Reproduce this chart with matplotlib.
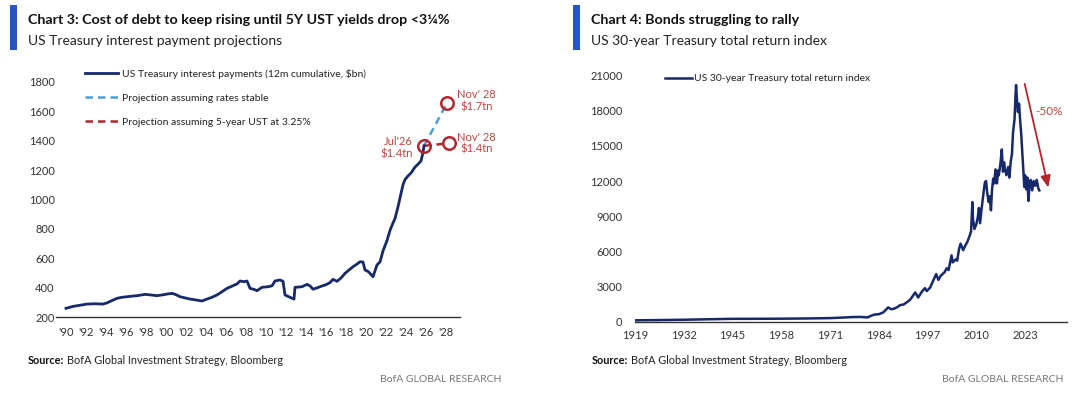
import matplotlib
matplotlib.use("Agg")
import matplotlib.pyplot as plt

# ---------------- data ----------------
# Chart 3: US Treasury interest payments (12m cumulative, $bn)
int_years = [1990.0, 1990.7, 1991.4, 1992.1, 1992.9, 1993.7, 1994.1, 1994.6, 1995.1, 1995.6,
             1996.1, 1996.6, 1997.1, 1997.9, 1998.5, 1999.1, 1999.6, 2000.1, 2000.6, 2001.0,
             2001.4, 2001.9, 2002.4, 2003.0, 2003.6, 2004.1, 2004.6, 2005.1, 2005.6, 2006.1,
             2006.6, 2007.1, 2007.4, 2007.8, 2008.1, 2008.4, 2008.8, 2009.1, 2009.6, 2010.2,
             2010.6, 2010.9, 2011.4, 2011.7, 2011.9, 2012.4, 2012.8, 2012.9, 2013.3, 2013.6,
             2014.1, 2014.4, 2014.7, 2015.1, 2015.6, 2016.0, 2016.4, 2016.7, 2017.1, 2017.5,
             2017.9, 2018.3, 2018.7, 2019.1, 2019.4, 2019.7, 2019.9, 2020.2, 2020.4, 2020.7,
             2021.1, 2021.4, 2021.7, 2022.1, 2022.4, 2022.7, 2022.9, 2023.2, 2023.4, 2023.7,
             2023.9, 2024.2, 2024.5, 2024.9, 2025.2, 2025.5, 2025.7, 2025.8]
int_values = [259, 272, 280, 288, 290, 288, 296, 312, 327, 334,
              338, 342, 345, 354, 350, 345, 350, 356, 361, 352,
              338, 330, 322, 316, 309, 322, 334, 350, 372, 395,
              410, 425, 445, 440, 445, 395, 388, 379, 402, 406,
              412, 445, 452, 443, 350, 334, 322, 402, 404, 406,
              422, 412, 389, 398, 411, 420, 434, 456, 443, 465,
              497, 520, 542, 560, 576, 574, 520, 510, 497, 474,
              554, 575, 650, 720, 790, 840, 870, 950, 1010, 1100,
              1135, 1160, 1180, 1220, 1240, 1262, 1320, 1365]

# projections: [year, value]
proj_start = [2025.8, 1365]
proj_stable_end = [2028.1, 1655]
proj_ust_end = [2028.3, 1382]

left_ticks = list(range(1990, 2029, 2))
left_ticklabels = ["'" + str(y)[2:] for y in left_ticks]
left_yticks = [200, 400, 600, 800, 1000, 1200, 1400, 1600, 1800]

# Chart 4: US 30-year Treasury total return index
tr_years = [1919, 1925, 1932, 1940, 1945, 1950, 1958, 1965, 1971, 1974,
            1977, 1979, 1981, 1982, 1983, 1984, 1985.2, 1986.5, 1987.3, 1987.9,
            1988.8, 1989.7, 1990.6, 1991.5, 1992.3, 1993.0, 1993.7, 1994.5, 1995.5, 1996.3,
            1996.8, 1997.7, 1998.8, 1999.3, 1999.9, 2000.5, 2001.5, 2002.1, 2002.6, 2003.4,
            2003.7, 2004.5, 2004.9, 2005.4, 2005.8, 2006.5, 2007.0, 2007.6, 2008.2, 2008.6,
            2008.95, 2009.1, 2009.5, 2010.0, 2010.4, 2010.7, 2011.0, 2011.4, 2011.7, 2012.0,
            2012.3, 2012.6, 2012.9, 2013.3, 2013.6, 2013.9, 2014.2, 2014.5, 2014.8, 2015.1,
            2015.5, 2015.8, 2016.0, 2016.4, 2016.8, 2017.1, 2017.4, 2017.6, 2018.0, 2018.2,
            2018.5, 2018.8, 2019.2, 2019.5, 2019.8, 2020.2, 2020.45, 2020.6, 2020.8, 2021.1,
            2021.4, 2021.7, 2022.0, 2022.3, 2022.6, 2022.8, 2023.0, 2023.3, 2023.6, 2023.9,
            2024.2, 2024.5, 2024.9, 2025.3, 2025.7, 2026.1, 2026.5, 2026.8]
tr_values = [100, 120, 150, 200, 230, 230, 240, 260, 290, 330,
             380, 390, 350, 500, 600, 620, 780, 1200, 1050, 1080,
             1200, 1400, 1450, 1650, 1840, 2150, 2480, 2050, 2550, 2850,
             2600, 2900, 3700, 4050, 3550, 3900, 4200, 4550, 4400, 5650,
             5050, 5300, 5200, 6200, 6650, 6100, 6450, 6800, 7300, 7700,
             10200, 8800, 7900, 8300, 8900, 9700, 8400, 9600, 10400, 11200,
             11900, 12000, 11000, 10200, 10700, 9500, 11300, 12200, 11800, 13000,
             11800, 12900, 12500, 13400, 14700, 12800, 13600, 13100, 12500, 12700,
             13200, 12300, 13700, 14300, 16200, 17300, 19300, 20200, 19100, 17900,
             18600, 17100, 15900, 14200, 12600, 11500, 12500, 11300, 12300, 10300,
             11800, 12100, 11200, 12000, 11600, 12100, 11400, 11200]

right_ticks = [1919, 1932, 1945, 1958, 1971, 1984, 1997, 2010, 2023]
right_yticks = [0, 3000, 6000, 9000, 12000, 15000, 18000, 21000]

# ---------------- style ----------------
W, H = 1080, 405
NAVY = "#15296b"
LBLUE = "#4b9fd6"
DRED = "#b3262d"
RED_TXT = "#c0453f"
BLUEBAR = "#2456c8"
TXT = "#222222"
TICK = "#333333"
REG = ["Lato", "DejaVu Sans"]

plt.rcParams["font.family"] = REG


def fx(x):
    return x / W


def fy(y):
    return 1 - y / H


fig = plt.figure(figsize=(W / 100, H / 100), dpi=100)
fig.patch.set_facecolor("white")
renderer = fig.canvas.get_renderer()


def header(x0, title, subtitle):
    fig.patches.append(plt.Rectangle((fx(x0), fy(50)), fx(7), 45 / H,
                                     transform=fig.transFigure, color=BLUEBAR, lw=0))
    fig.text(fx(x0 + 18), fy(20), title, fontsize=10.3, fontweight="bold",
             color="#111111", va="center", ha="left")
    fig.text(fx(x0 + 18), fy(41), subtitle, fontsize=10,
             color="#222222", va="center", ha="left")


def footer(x0, xr):
    t = fig.text(fx(x0), fy(361), "Source:", fontsize=7.8, fontweight="bold",
                 color="#111111", va="center", ha="left")
    bb = t.get_window_extent(renderer=renderer)
    fig.text((bb.x1 + 3) / W, fy(361), "BofA Global Investment Strategy, Bloomberg",
             fontsize=7.8, color="#222222", va="center", ha="left")
    fig.text(fx(xr), fy(379), "BofA GLOBAL RESEARCH", fontsize=7.5,
             color="#777777", va="center", ha="right")


def style_axes(ax):
    for s in ["top", "right", "left"]:
        ax.spines[s].set_visible(False)
    ax.spines["bottom"].set_color("#333333")
    ax.spines["bottom"].set_linewidth(1.0)
    ax.tick_params(axis="both", length=0, labelsize=8, colors=TICK)


header(10, "Chart 3: Cost of debt to keep rising until 5Y UST yields drop <3\u00bc%",
       "US Treasury interest payment projections")
header(573, "Chart 4: Bonds struggling to rally", "US 30-year Treasury total return index")
footer(28, 502)
footer(592, 1064)

# ---------------- left chart ----------------
axL = fig.add_axes([fx(56), fy(317), fx(460 - 56), (317 - 70) / H])
style_axes(axL)
axL.set_xlim(1989.0, 2029.4)
axL.set_ylim(200, 1881)
axL.plot(int_years, int_values, color=NAVY, lw=2.0, solid_joinstyle="round",
         label="US Treasury interest payments (12m cumulative, $bn)", zorder=3)
axL.plot([proj_start[0], proj_stable_end[0]], [proj_start[1], proj_stable_end[1]],
         color=LBLUE, lw=1.8, ls=(0, (3, 2)), label="Projection assuming rates stable", zorder=2)
axL.plot([proj_start[0], proj_ust_end[0]], [proj_start[1], proj_ust_end[1]],
         color=DRED, lw=1.8, ls=(0, (3, 2)), label="Projection assuming 5-year UST at 3.25%",
         zorder=2)
for pt in [proj_start, proj_stable_end, proj_ust_end]:
    axL.plot(pt[0], pt[1], marker="o", ms=9, mfc="none", mec=DRED, mew=1.8, zorder=4)
axL.set_xticks(left_ticks)
axL.set_xticklabels(left_ticklabels)
axL.set_yticks(left_yticks)
axL.tick_params(axis="x", pad=7)
axL.tick_params(axis="y", pad=1)

axL.annotate("Nov' 28\n$1.7tn", xy=proj_stable_end, xytext=(21, 2), textcoords="offset points",
             fontsize=8, color=RED_TXT, ha="center", va="center", linespacing=1.15)
axL.annotate("Jul'26\n$1.4tn", xy=proj_start, xytext=(-8, -1.5), textcoords="offset points",
             fontsize=8, color=RED_TXT, ha="right", va="center", linespacing=1.15)
axL.annotate("Nov' 28\n$1.4tn", xy=proj_ust_end, xytext=(20, 0), textcoords="offset points",
             fontsize=8, color=RED_TXT, ha="center", va="center", linespacing=1.15)

legL = axL.legend(loc="upper left", bbox_to_anchor=(fx(85), fy(69)),
                  bbox_transform=fig.transFigure, frameon=False, fontsize=7.5,
                  handlelength=3.2, handletextpad=0.4, labelspacing=1.4,
                  borderaxespad=0, borderpad=0)
for t in legL.get_texts():
    t.set_color(TXT)

# ---------------- right chart ----------------
axR = fig.add_axes([fx(635), fy(321.5), fx(1066.7 - 635), (321.5 - 70) / H])
style_axes(axR)
axR.set_xlim(1919, 2034.1)
axR.set_ylim(0, 21487)
axR.plot(tr_years, tr_values, color=NAVY, lw=1.8, solid_joinstyle="round",
         label="US 30-year Treasury total return index")
axR.set_xticks(right_ticks)
axR.set_yticks(right_yticks)
axR.tick_params(axis="x", pad=6)
axR.tick_params(axis="y", pad=9)
axR.annotate("", xy=(2029.2, 11450), xytext=(2022.9, 20300),
             arrowprops=dict(arrowstyle="-|>,head_length=0.7,head_width=0.3",
                             color=DRED, lw=1.3, shrinkA=0, shrinkB=0))
axR.text(2029.3, 17900, "-50%", fontsize=8.5, color=RED_TXT, ha="center", va="center")

legR = axR.legend(loc="upper left", bbox_to_anchor=(fx(665), fy(74)),
                  bbox_transform=fig.transFigure, frameon=False, fontsize=7.5,
                  handlelength=2.6, handletextpad=0.2, borderaxespad=0, borderpad=0)
for t in legR.get_texts():
    t.set_color(TXT)

fig.savefig("out.png", dpi=100, facecolor="white")
